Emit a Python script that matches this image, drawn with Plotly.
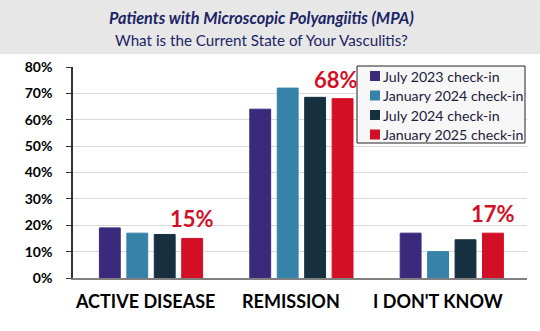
import plotly.graph_objects as go

categories = ["ACTIVE DISEASE", "REMISSION", "I DON'T KNOW"]
series_names = ["July 2023 check-in", "January 2024 check-in",
                "July 2024 check-in", "January 2025 check-in"]
jul_2023 = [19, 64, 17]
jan_2024 = [17, 72, 10]
jul_2024 = [16.5, 68.5, 14.5]
jan_2025 = [15, 68, 17]
highlight_idx = [0, 1, 2]          # categories labelled with the latest value
y_ticks = [0, 10, 20, 30, 40, 50, 60, 70, 80]

colors = ["#3b2a7c", "#3682a8", "#16303f", "#d30f25"]
font = "Lato"

# plot-area geometry in pixels (used to place the boxed key in paper units)
W, H = 540, 331
M_L, M_R, M_T, M_B = 73, 13, 67, 53
PW, PH = W - M_L - M_R, H - M_T - M_B


def px(x):
    return (x - M_L) / PW


def py(y):
    return 1 - (y - M_T) / PH


fig = go.Figure()
for name, vals, col in zip(series_names, [jul_2023, jan_2024, jul_2024, jan_2025], colors):
    fig.add_trace(go.Bar(
        x=categories, y=vals, name=name, showlegend=False,
        marker=dict(color=col, line=dict(color=col, width=1)),
    ))

# red callouts above the latest check-in bar
label_xshift = [41, 35, 41]
for i, xs in zip(highlight_idx, label_xshift):
    fig.add_annotation(
        x=categories[i], y=jan_2025[i], xref="x", yref="y",
        text=f"{jan_2025[i]:.0f}%", showarrow=False,
        xshift=xs, yshift=4, yanchor="bottom",
        font=dict(family=font, size=22, color="#d30f25", weight="bold"),
    )

# category labels under the axis
cat_xshift = [-6, -10, -14]
for cat, xs in zip(categories, cat_xshift):
    fig.add_annotation(
        x=cat, y=0, xref="x", yref="y", text=cat, showarrow=False,
        xshift=xs, yshift=-10, yanchor="top",
        font=dict(family=font, size=18, color="black", weight="bold"),
    )

# boxed key
fig.add_shape(type="rect", xref="paper", yref="paper",
              x0=px(357), x1=px(525), y0=py(143), y1=py(66),
              fillcolor="#f7f7f7", line=dict(color="#222222", width=1))
row_y = [76, 95.5, 115, 134.5]
for name, col, ry in zip(series_names, colors, row_y):
    fig.add_shape(type="rect", xref="paper", yref="paper",
                  x0=px(370), x1=px(380), y0=py(ry + 5), y1=py(ry - 5),
                  fillcolor=col, line=dict(width=0))
    fig.add_annotation(xref="paper", yref="paper", x=px(381), y=py(ry),
                       xanchor="left", yanchor="middle", showarrow=False,
                       text=name,
                       font=dict(family=font, size=14.2, color="#1c1c3a"))

# title band
fig.add_shape(type="rect", xref="paper", yref="paper",
              x0=-1, x1=2, y0=py(54), y1=2, fillcolor="#e7e7e7",
              line=dict(width=0), layer="below")
fig.add_annotation(
    xref="paper", yref="paper", x=px(261.7), y=py(18), yanchor="middle",
    xanchor="center", showarrow=False,
    text="<b><i>Patients with Microscopic Polyangiitis (MPA)</i></b>",
    font=dict(family=font, size=16.3, color="#1c2466"),
)
fig.add_annotation(
    xref="paper", yref="paper", x=px(261.7), y=py(40), yanchor="middle",
    xanchor="center", showarrow=False,
    text="What is the Current State of Your Vasculitis?",
    font=dict(family=font, size=15.2, color="#1c2466"),
)

fig.update_layout(
    width=W, height=H,
    margin=dict(l=M_L, r=M_R, t=M_T, b=M_B, autoexpand=False),
    paper_bgcolor="white", plot_bgcolor="white",
    barmode="group", bargap=0.27, bargroupgap=0.24,
    showlegend=False,
    xaxis=dict(
        showgrid=False, showline=True, linecolor="#808080", linewidth=2,
        ticks="", showticklabels=False, fixedrange=True,
    ),
    yaxis=dict(
        range=[0, 80], tickvals=y_ticks,
        ticktext=[f"{v}%" for v in y_ticks],
        showgrid=True, gridcolor="#d9d9d9", gridwidth=1,
        showline=True, linecolor="#333333", linewidth=1.5,
        ticks="outside", ticklen=5, tickcolor="#333333",
        ticklabelstandoff=11,
        tickfont=dict(family=font, size=14, color="black", weight="bold"),
        zeroline=False, fixedrange=True,
    ),
)

fig.write_html("out.html")
